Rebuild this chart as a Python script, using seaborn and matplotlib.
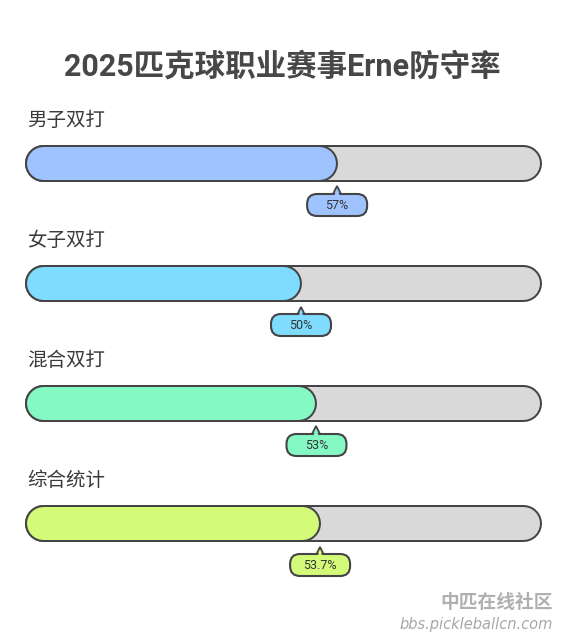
import matplotlib
matplotlib.use("Agg")
import matplotlib.pyplot as plt
from matplotlib.patches import FancyBboxPatch
import seaborn as sns
import pandas as pd

# Chart values
categories = ["男子双打", "女子双打", "混合双打", "综合统计"]
rates = [57, 50, 53, 53.7]
rate_labels = ["57%", "50%", "53%", "53.7%"]
fill_colors = ["#9fc3ff", "#80dcff", "#84f9c4", "#d3fa78"]
title = "2025匹克球职业赛事Erne防守率"

sns.set_theme(style="white")
plt.rcParams["font.family"] = ["Roboto", "Noto Sans CJK SC", "DejaVu Sans"]

W, H = 565, 635
fig = plt.figure(figsize=(W / 100, H / 100), dpi=100)
ax = fig.add_axes([0, 0, 1, 1])

# x: 0..1 of the track maps to 25px..541px ; y: one unit per row (120px)
track_px = 516
row_px = 120
ax.set_xlim(-25 / track_px, (W - 25) / track_px)
ax.set_ylim((H - 163) / row_px, -163 / row_px)
ax.axis("off")

cap = 18 / track_px          # half the bar height, in x units
outline = "#444444"
outer_lw = 37 * 0.72
inner_lw = 33 * 0.72

# background tracks
track = pd.DataFrame({
    "x": [cap, 1 - cap] * len(categories),
    "y": [i for i in range(len(categories)) for _ in range(2)],
    "cat": [c for c in categories for _ in range(2)],
})
sns.lineplot(data=track, x="x", y="y", units="cat", estimator=None, sort=False,
             color=outline, linewidth=outer_lw, solid_capstyle="round", ax=ax, zorder=1)
sns.lineplot(data=track, x="x", y="y", units="cat", estimator=None, sort=False,
             color="#d9d9d9", linewidth=inner_lw, solid_capstyle="round", ax=ax, zorder=2)

# filled part
fill = pd.DataFrame({
    "x": [v for r in rates for v in (cap, r / 100)],
    "y": [i for i in range(len(categories)) for _ in range(2)],
    "cat": [c for c in categories for _ in range(2)],
})
sns.lineplot(data=fill, x="x", y="y", units="cat", estimator=None, sort=False,
             color=outline, linewidth=outer_lw, solid_capstyle="round", ax=ax, zorder=3)
sns.lineplot(data=fill, x="x", y="y", hue="cat", palette=fill_colors, estimator=None,
             sort=False, linewidth=inner_lw, solid_capstyle="round", ax=ax,
             legend=False, zorder=4)

# title
ax.text((282 - 25) / track_px, (67 - 163) / row_px, title,
        ha="center", va="center", fontsize=22, fontweight="bold", color="#474747")

mut_aspect = track_px / row_px
box_w = 60 / track_px
box_h = 22 / row_px
for i, (cat, r, lab, col) in enumerate(zip(categories, rates, rate_labels, fill_colors)):
    # category label
    ax.text(2 / track_px, i - 42 / row_px, cat, ha="left", va="center",
            fontsize=14, color="#3a3a3a")
    # callout
    cx = r / 100 + cap
    cy = i + 42 / row_px
    box = FancyBboxPatch((cx - box_w / 2, cy - box_h / 2), box_w, box_h,
                         boxstyle=f"round,pad=0,rounding_size={10 / track_px}",
                         mutation_aspect=mut_aspect, facecolor=col,
                         edgecolor=outline, linewidth=1.5, zorder=5)
    ax.add_patch(box)
    tip_y = cy - box_h / 2 - 2.5 / row_px
    ax.plot([cx], [tip_y], marker="^", markersize=6.5, markerfacecolor=col,
            markeredgecolor=outline, markeredgewidth=1.3, zorder=4)
    ax.plot([cx], [tip_y + 2 / row_px], marker="^", markersize=5,
            markerfacecolor=col, markeredgewidth=0, zorder=6)
    ax.text(cx, cy + 0.5 / row_px, lab, ha="center", va="center", fontsize=9,
            color="#333333", zorder=7)

# watermark
fig.text(553 / W, 1 - 603 / H, "中匹在线社区", ha="right", va="center", fontsize=13.5,
         fontweight="bold", style="italic", color="#b0b0b0")
fig.text(553 / W, 1 - 624 / H, "bbs.pickleballcn.com", ha="right", va="center",
         fontsize=10.5, style="italic", color="#a8a8a8",
         family=["DejaVu Sans"])

fig.savefig("out.png", dpi=100, facecolor="white")
